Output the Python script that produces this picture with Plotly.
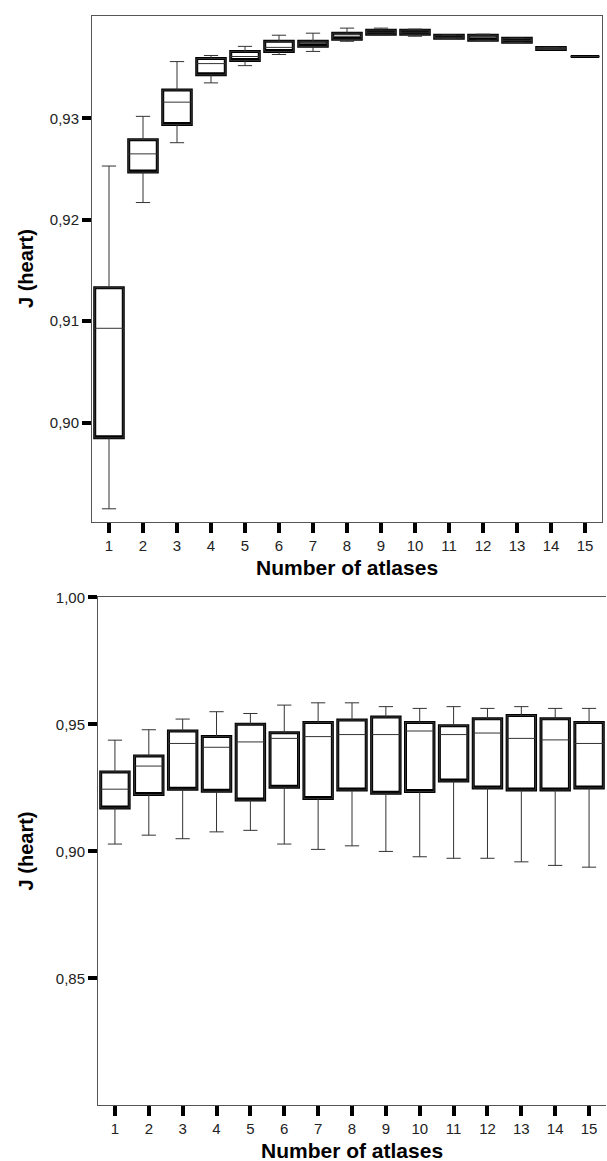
import plotly.graph_objects as go

categories = list(range(1, 16))
tick_labels = [str(c) for c in categories]

# Top panel: J (heart) box statistics per number of atlases
top_lower = [0.8915, 0.9217, 0.9276, 0.9335, 0.9352, 0.9363, 0.9366, 0.9376, 0.9382, 0.9381, 0.9379, 0.9377, 0.9375, 0.9368, 0.9361]
top_q1 = [0.8985, 0.9247, 0.9294, 0.9343, 0.9357, 0.9366, 0.9371, 0.9378, 0.9383, 0.9383, 0.9379, 0.9377, 0.9375, 0.9368, 0.9361]
top_median = [0.9093, 0.9265, 0.9316, 0.9354, 0.9361, 0.9370, 0.9374, 0.9381, 0.9385, 0.9385, 0.9380, 0.9380, 0.9377, 0.9369, 0.9361]
top_q3 = [0.9133, 0.9279, 0.9328, 0.9359, 0.9366, 0.9376, 0.9376, 0.9384, 0.9387, 0.9387, 0.9382, 0.9382, 0.9379, 0.9370, 0.9361]
top_upper = [0.9253, 0.9302, 0.9356, 0.9362, 0.9371, 0.9382, 0.9384, 0.9389, 0.9389, 0.9388, 0.9382, 0.9383, 0.9379, 0.9370, 0.9361]

# Bottom panel
bot_lower = [0.9029, 0.9064, 0.9050, 0.9077, 0.9083, 0.9029, 0.9008, 0.9022, 0.9000, 0.8979, 0.8973, 0.8973, 0.8959, 0.8945, 0.8938]
bot_q1 = [0.9171, 0.9224, 0.9245, 0.9237, 0.9202, 0.9253, 0.9208, 0.9242, 0.9229, 0.9236, 0.9277, 0.9250, 0.9242, 0.9242, 0.9250]
bot_median = [0.9245, 0.9336, 0.9425, 0.9410, 0.9431, 0.9445, 0.9452, 0.9460, 0.9460, 0.9474, 0.9460, 0.9466, 0.9445, 0.9439, 0.9425]
bot_q3 = [0.9313, 0.9376, 0.9474, 0.9452, 0.9501, 0.9467, 0.9508, 0.9517, 0.9529, 0.9508, 0.9495, 0.9522, 0.9535, 0.9522, 0.9508]
bot_upper = [0.9438, 0.9479, 0.9521, 0.9550, 0.9543, 0.9576, 0.9585, 0.9585, 0.9570, 0.9563, 0.9570, 0.9563, 0.9570, 0.9563, 0.9563]

top_yticks = [0.90, 0.91, 0.92, 0.93]
bot_yticks = [0.85, 0.90, 0.95, 1.00]

FONT = "Liberation Sans, Arial, sans-serif"
W, H = 607, 1161

fig = go.Figure()


def add_boxes(xa, ya, lo, q1, med, q3, hi):
    # thick box body (no whiskers)
    fig.add_trace(go.Box(
        x=categories, q1=q1, median=q1, q3=q3, lowerfence=q1, upperfence=q3,
        xaxis=xa, yaxis=ya, width=0.84, fillcolor="white",
        line=dict(color="black", width=3), whiskerwidth=0,
        boxpoints=False, showlegend=False, hoverinfo="skip"))
    # thin whiskers and median
    fig.add_trace(go.Box(
        x=categories, q1=q1, median=med, q3=q3, lowerfence=lo, upperfence=hi,
        xaxis=xa, yaxis=ya, width=0.84, fillcolor="rgba(0,0,0,0)",
        line=dict(color="#333333", width=1), whiskerwidth=0.5,
        boxpoints=False, showlegend=False, hoverinfo="skip"))


add_boxes("x", "y", top_lower, top_q1, top_median, top_q3, top_upper)
add_boxes("x2", "y2", bot_lower, bot_q1, bot_median, bot_q3, bot_upper)

# pixel geometry of the two panels
top_px = dict(l=92, r=602, t=7, b=517)
bot_px = dict(l=98, r=606, t=593, b=1105)


def xdom(p):
    return [p["l"] / W, p["r"] / W]


def ydom(p):
    return [1 - p["b"] / H, 1 - p["t"] / H]


xcommon = dict(range=[0.5, 15.5], tickmode="array", tickvals=categories, ticktext=tick_labels,
               ticks="outside", ticklen=10, tickwidth=4, tickcolor="black",
               showline=True, linecolor="#555555", linewidth=1, showgrid=False, zeroline=False,
               tickfont=dict(family=FONT, size=15, color="#222222"), fixedrange=True)
ycommon = dict(tickmode="array", tickformat=".2f",
               ticks="outside", ticklen=9, tickwidth=4, tickcolor="black",
               showline=True, linecolor="#555555", linewidth=1, showgrid=False, zeroline=False,
               tickfont=dict(family=FONT, size=15, color="#222222"), fixedrange=True)

fig.update_layout(
    width=W, height=H,
    margin=dict(l=0, r=0, t=0, b=0),
    paper_bgcolor="white", plot_bgcolor="white",
    separators=", ",
    showlegend=False,
    boxmode="overlay",
    xaxis=dict(domain=xdom(top_px), anchor="y", mirror=True, **xcommon),
    yaxis=dict(domain=ydom(top_px), anchor="x", range=[0.8902, 0.9401], tickvals=top_yticks,
               mirror=True, **ycommon),
    xaxis2=dict(domain=xdom(bot_px), anchor="y2", mirror=True, **xcommon),
    yaxis2=dict(domain=ydom(bot_px), anchor="x2", range=[0.80, 1.00], tickvals=bot_yticks,
                mirror=False, **ycommon),
)

for p, ytxt in ((top_px, 563), (bot_px, 1150)):
    fig.add_annotation(text="<b>Number of atlases</b>", xref="paper", yref="paper",
                       x=(p["l"] + p["r"]) / 2 / W, y=1 - ytxt / H,
                       xanchor="center", yanchor="middle", showarrow=False,
                       font=dict(family=FONT, size=21, color="black"))
    fig.add_annotation(text="<b>J (heart)</b>", xref="paper", yref="paper",
                       x=26 / W, y=1 - (p["t"] + p["b"]) / 2 / H, textangle=-90,
                       xanchor="center", yanchor="middle", showarrow=False,
                       font=dict(family=FONT, size=20, color="black"))

fig.write_html(
    "out.html",
    config={"displayModeBar": False},
    post_script="document.body.style.margin='0';document.body.style.overflow='hidden';",
)
